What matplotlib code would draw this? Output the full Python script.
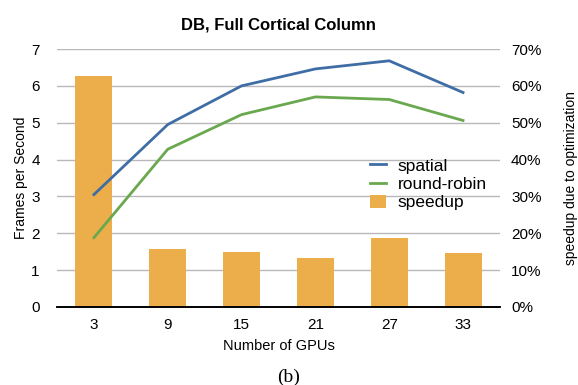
import matplotlib
matplotlib.use("Agg")
import matplotlib.pyplot as plt
from matplotlib.ticker import FuncFormatter

gpus = ["3", "9", "15", "21", "27", "33"]
spatial = [3.05, 4.95, 6.0, 6.46, 6.68, 5.82]
round_robin = [1.88, 4.28, 5.22, 5.70, 5.63, 5.06]
speedup = [62.7, 15.7, 14.9, 13.3, 18.7, 14.6]

plt.rcParams['font.family'] = ['Liberation Sans', 'DejaVu Sans']

fig = plt.figure(figsize=(5.78, 3.85), dpi=100)
ax = fig.add_axes([0.0986, 0.2026, 0.7664, 0.6701])
ax2 = ax.twinx()

x = list(range(len(gpus)))
bars = ax2.bar(x, speedup, width=0.5, color='#ecae4b', label='speedup', zorder=1)
ax2.set_ylim(0, 70)
ax2.set_yticks(range(0, 71, 10))
ax2.yaxis.set_major_formatter(FuncFormatter(lambda v, p: "%d%%" % v))

ax.set_zorder(ax2.get_zorder() + 1)
ax.patch.set_visible(False)
l1, = ax.plot(x, spatial, color='#3f6da6', lw=2, label='spatial')
l2, = ax.plot(x, round_robin, color='#6aa84f', lw=2, label='round-robin')
ax.set_ylim(0, 7)
ax.set_xlim(-0.5, 5.5)
ax.set_yticks(range(0, 8))
ax.set_xticks(x)
ax.set_xticklabels(gpus)

for y in range(1, 8):
    ax2.axhline(y * 10, color='#b8b8b8', lw=1, zorder=0)

for a in (ax, ax2):
    for s in ('top', 'left', 'right'):
        a.spines[s].set_visible(False)
    a.spines['bottom'].set_color('black')
    a.spines['bottom'].set_linewidth(1.2)
    a.tick_params(length=0, labelsize=11, pad=8)
ax.tick_params(axis='y', pad=12.5)

ax.set_xlabel("Number of GPUs", fontsize=10.5, labelpad=5)
ax.set_ylabel("Frames per Second", fontsize=10, labelpad=2.5)
ax2.set_ylabel("speedup due to optimization", fontsize=10, labelpad=16)
ax.set_title("DB, Full Cortical Column", fontsize=12, fontweight='bold', pad=14)

leg = ax.legend([l1, l2, bars], ['spatial', 'round-robin', 'speedup'],
                loc='upper left', bbox_to_anchor=(0.7065, 0.5775), frameon=False,
                borderpad=0, borderaxespad=0,
                fontsize=12.5, handlelength=0.92, handleheight=0.8,
                handletextpad=0.69, labelspacing=0.15)

fig.text(0.5, 0.021, "(b)", ha='center', va='center', fontsize=14, family='Liberation Serif')

plt.savefig("out.png", dpi=100)
plt.close()
